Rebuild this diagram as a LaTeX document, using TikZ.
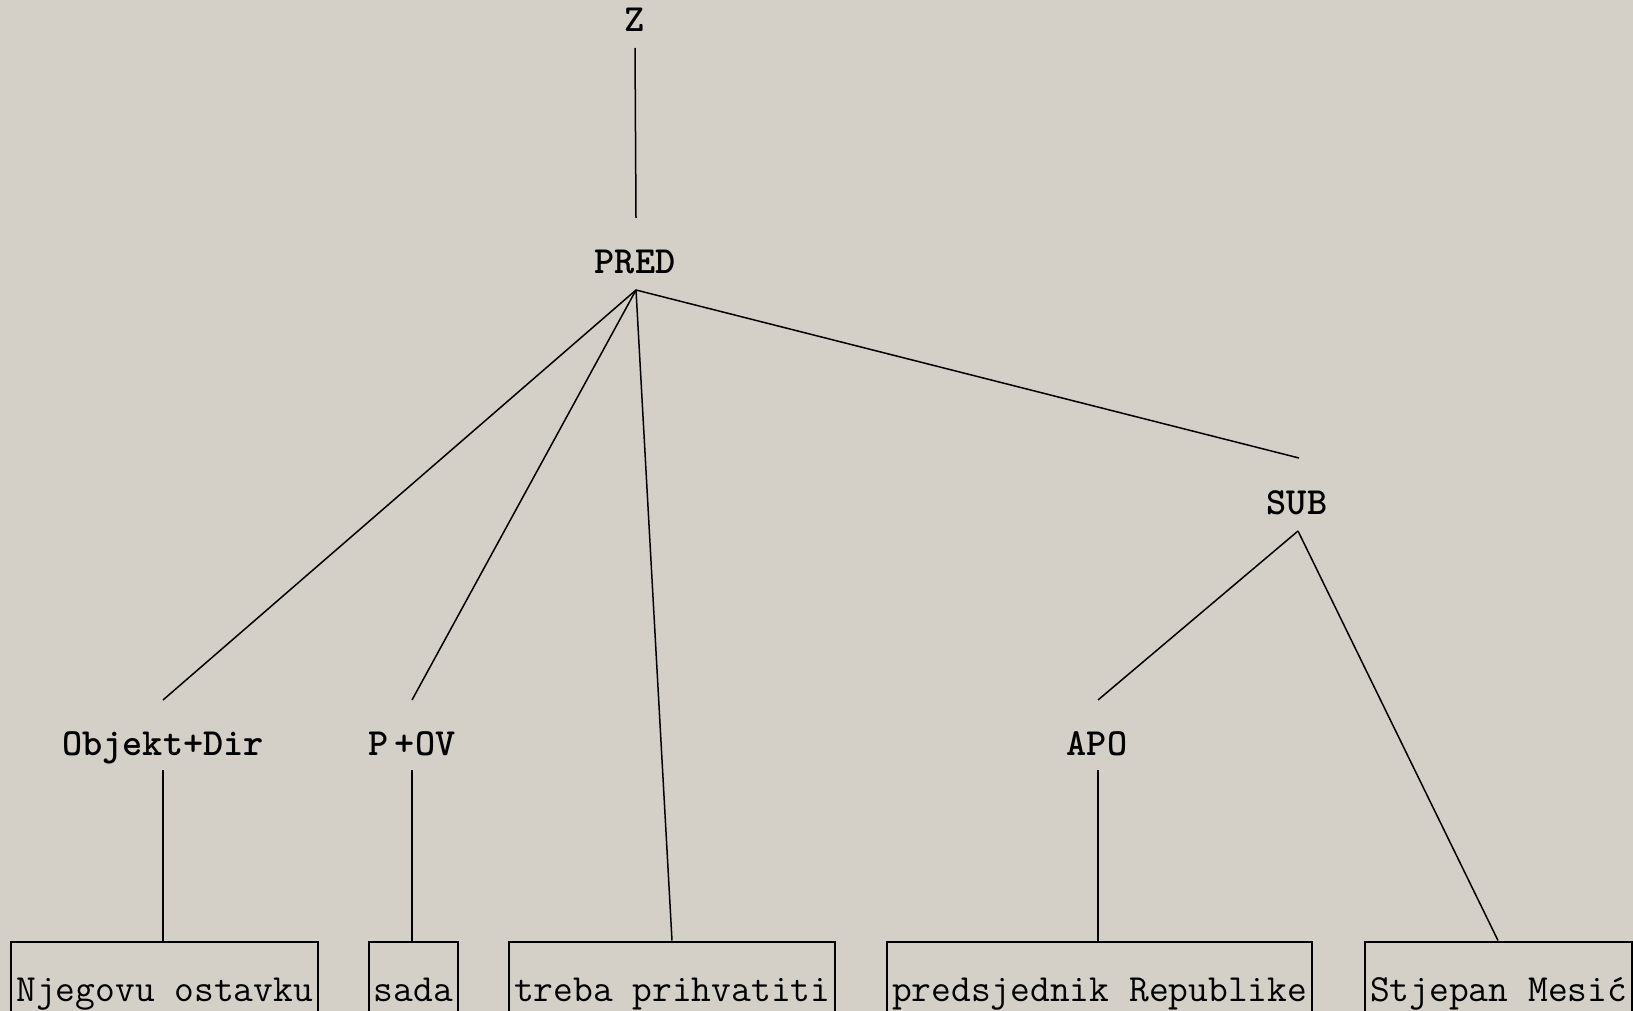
\documentclass[tikz,border=0pt]{standalone}
\usepackage{fontspec}
\definecolor{winbg}{RGB}{212,208,200}
\begin{document}
\begin{tikzpicture}[x=1pt,y=-1pt,
  lab/.style={font=\ttfamily\bfseries\fontsize{38.4}{38.4}\selectfont, inner sep=0pt, anchor=base},
  wbox/.style={draw=black, line width=2pt, font=\ttfamily\fontsize{38.4}{38.4}\selectfont,
    inner xsep=5pt, inner ysep=0pt, text height=60pt, text depth=40pt, anchor=north west},
  edge/.style={draw=black, line width=1.5pt}]
\useasboundingbox (0,0) rectangle (1633,1011);
\fill[winbg] (0,0) rectangle (1633,1011);
\clip (0,0) rectangle (1633,1011);
% labels
\node[lab] (z) at (635,32) {Z};
\node[lab] (pred) at (635,273) {PRED};
\node[lab] (obj) at (163,755) {Objekt+Dir};
\node[lab] (pov) at (412,755) {P\hspace{-14pt} +OV};
\node[lab] (apo) at (1097,755) {APO};
\node[lab] (sub) at (1297,514) {SUB};
% boxes
\node[wbox] (b1) at (10.4,940.5) {Njegovu ostavku};
\node[wbox] (b2) at (367.7,940.5) {sada};
\node[wbox] (b3) at (508,940.5) {treba prihvatiti};
\node[wbox] (b4) at (886,940.5) {predsjednik Republike};
\node[wbox] (b5) at (1364,940.5) {Stjepan Mesić\hspace{60pt}};
% attach points
\coordinate (zB) at (635,48);
\coordinate (predT) at (636,218);
\coordinate (predB) at (636,290);
\coordinate (objT) at (163,700);
\coordinate (objB) at (163,770);
\coordinate (povT) at (412,700);
\coordinate (povB) at (412,770);
\coordinate (subT) at (1299,458);
\coordinate (subB) at (1298,531);
\coordinate (apoT) at (1098,700);
\coordinate (apoB) at (1098,770);
\coordinate (b3T) at (672,940.5);
\coordinate (b5T) at (1498,940.5);
% connectors
\draw[edge] (zB) -- (predT);
\draw[edge] (predB) -- (objT);
\draw[edge] (predB) -- (povT);
\draw[edge] (predB) -- (b3T);
\draw[edge] (predB) -- (subT);
\draw[edge] (subB) -- (apoT);
\draw[edge] (subB) -- (b5T);
\draw[edge] (objB) -- (objB |- b1.north);
\draw[edge] (povB) -- (povB |- b2.north);
\draw[edge] (apoB) -- (apoB |- b4.north);
\end{tikzpicture}
\end{document}
